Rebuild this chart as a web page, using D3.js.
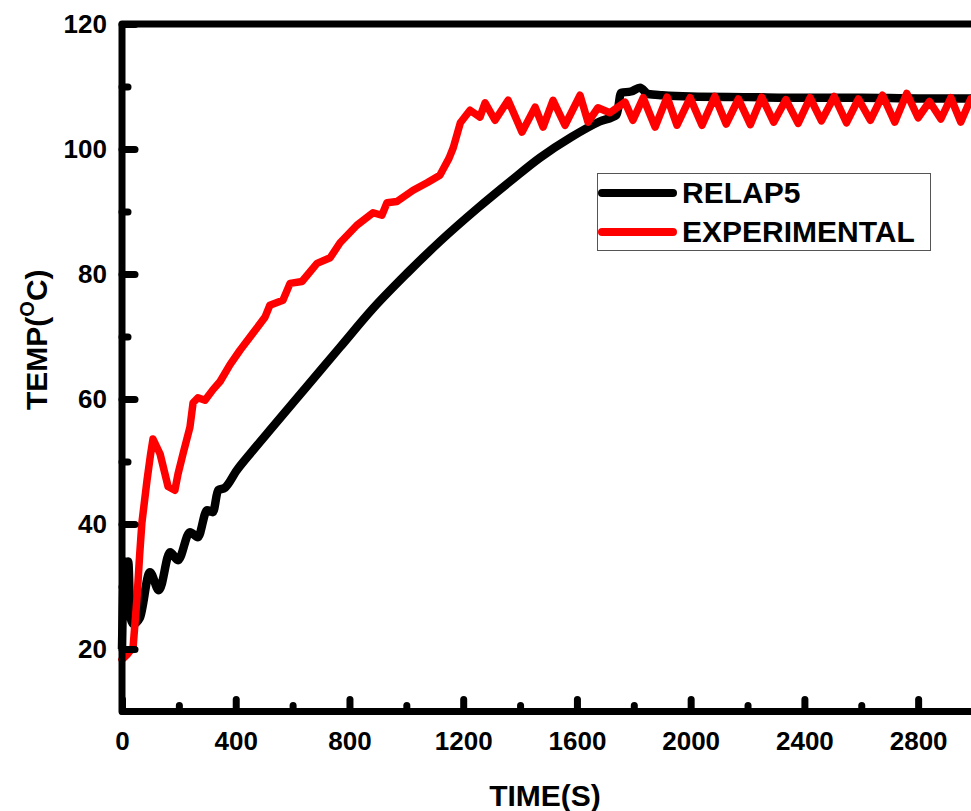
<!DOCTYPE html>
<html>
<head>
<meta charset="utf-8">
<script src="https://cdn.jsdelivr.net/npm/d3@7"></script>
<style>
	body { margin: 0; background: #fff; }
	svg { display: block; font-family: "Liberation Sans", Arial, sans-serif; font-weight: bold; }
</style>
</head>
<body>
<div id="chart"></div>
<script>
// RELAP5 simulation
var relapTime = [0, 8, 15, 22, 30, 40, 63, 98, 130, 169, 197, 239, 267, 299, 320, 338, 362, 404, 450, 531, 650, 767, 883, 1002, 1118, 1250, 1370, 1470, 1580, 1680, 1740, 1755, 1790, 1822, 1850, 1900, 2000, 2200, 2400, 2600, 2800, 3000];
var relapTemp = [20, 34, 27, 34, 25, 24, 25, 32.3, 29.4, 35.5, 34.2, 38.7, 37.9, 42.2, 41.9, 45.4, 45.8, 48.6, 51.2, 55.6, 62, 68.3, 74.5, 80.1, 85.2, 90.5, 95, 98.6, 101.9, 104.4, 105.5, 109, 109.2, 109.8, 108.8, 108.6, 108.4, 108.3, 108.2, 108.2, 108.1, 108.1];

// experimental measurements
var expTime = [0, 20, 39, 53, 62, 70, 88, 100, 109, 134, 162, 186, 197, 215, 239, 250, 267, 292, 320, 345, 380, 415, 460, 503, 520, 566, 591, 633, 686, 732, 767, 826, 883, 914, 932, 967, 1024, 1073, 1118, 1150, 1165, 1190, 1224, 1259, 1277, 1312, 1358, 1407, 1453, 1481, 1516, 1558, 1611, 1639, 1674, 1716, 1769, 1797, 1833, 1875, 1917, 1952, 1998, 2040, 2085, 2125, 2168, 2210, 2250, 2292, 2335, 2378, 2420, 2460, 2505, 2548, 2590, 2632, 2675, 2718, 2760, 2800, 2840, 2880, 2915, 2950, 2985];
var expTemp = [18.3, 19.2, 20.3, 28.3, 35, 40.2, 47, 51, 53.6, 51.2, 46, 45.4, 48, 51.3, 55.5, 59.4, 60.2, 59.8, 61.5, 62.8, 65.5, 67.8, 70.5, 73.1, 75, 75.8, 78.5, 78.8, 81.7, 82.6, 85, 87.8, 89.8, 89.4, 91.4, 91.6, 93.4, 94.6, 95.8, 98.5, 100.2, 104.2, 106.2, 105.1, 107.4, 104.6, 107.8, 102.7, 106.7, 103.5, 107.8, 103.8, 108.6, 104.3, 106.6, 105.8, 107.5, 104.6, 108.2, 103.5, 108.3, 103.8, 108.2, 103.8, 108.4, 104.0, 108.0, 103.9, 108.3, 104.3, 107.9, 104.1, 108.2, 104.5, 108.4, 104.2, 108.0, 104.6, 108.6, 104.3, 108.9, 105.0, 107.6, 104.8, 108.2, 104.3, 108.0];

var xMajor = [0, 400, 800, 1200, 1600, 2000, 2400, 2800];
var xMinor = [200, 600, 1000, 1400, 1800, 2200, 2600, 3000];
var yMajor = [20, 40, 60, 80, 100, 120];
var yMinor = [30, 50, 70, 90, 110];

var seriesNames = ["RELAP5", "EXPERIMENTAL"];
var seriesColors = ["#000000", "#ff0000"];

var width = 971, height = 811;
var svg = d3.select("#chart")
	.append("svg")
	.attr("width", width)
	.attr("height", height);

var x = d3.scaleLinear().domain([0, 3000]).range([122, 975]);
var y = d3.scaleLinear().domain([10, 120]).range([711.5, 24]);

var smooth = d3.line()
	.curve(d3.curveMonotoneX)
	.x(function(d) { return x(d[0]); })
	.y(function(d) { return y(d[1]); });

var line = d3.line()
	.x(function(d) { return x(d[0]); })
	.y(function(d) { return y(d[1]); });

var relap = relapTime.map(function(t, i) { return [t, relapTemp[i]]; });
var expt = expTime.map(function(t, i) { return [t, expTemp[i]]; });

// curves
svg.append("path")
	.datum(relap)
	.attr("d", smooth)
	.attr("fill", "none")
	.attr("stroke", seriesColors[0])
	.attr("stroke-width", 8.5)
	.attr("stroke-linejoin", "round");

svg.append("path")
	.datum(expt)
	.attr("d", line)
	.attr("fill", "none")
	.attr("stroke", seriesColors[1])
	.attr("stroke-width", 7.5)
	.attr("stroke-linejoin", "round")
	.attr("stroke-linecap", "round");

// frame
svg.append("path")
	.attr("d", "M" + x(3000) + "," + y(120) + "H" + x(0) + "V" + y(10) + "H" + x(3000))
	.attr("fill", "none")
	.attr("stroke", "#000")
	.attr("stroke-width", 7)
	.attr("stroke-linejoin", "round");

function styleAxis(g)
{
	g.select(".domain").remove();
	g.selectAll(".tick line")
	.attr("stroke", "#000")
	.attr("stroke-width", 7)
	.attr("stroke-linecap", "round");
	g.selectAll(".tick text")
	.attr("fill", "#000")
	.attr("font-size", "26px")
	.attr("font-weight", "bold")
	.attr("font-family", "Liberation Sans, Arial, sans-serif");
}

svg.append("g")
	.attr("transform", "translate(0," + y(10) + ")")
	.call(d3.axisBottom(x).tickValues(xMajor).tickSize(-12).tickPadding(20).tickFormat(d3.format("d")))
	.call(styleAxis);

svg.append("g")
	.attr("transform", "translate(0," + y(10) + ")")
	.call(d3.axisBottom(x).tickValues(xMinor).tickSize(-6).tickFormat(""))
	.call(styleAxis);

svg.append("g")
	.attr("transform", "translate(" + x(0) + ",0)")
	.call(d3.axisLeft(y).tickValues(yMajor).tickSize(-13).tickPadding(15).tickFormat(d3.format("d")))
	.call(styleAxis);

svg.append("g")
	.attr("transform", "translate(" + x(0) + ",0)")
	.call(d3.axisLeft(y).tickValues(yMinor).tickSize(-6).tickFormat(""))
	.call(styleAxis);

// axis titles
svg.append("text")
	.attr("x", 545)
	.attr("y", 806)
	.attr("text-anchor", "middle")
	.attr("font-size", "30px")
	.text("TIME(S)");

var yt = svg.append("text")
	.attr("transform", "translate(47,410) rotate(-90)")
	.attr("font-size", "30px");
yt.append("tspan").text("TEMP(");
yt.append("tspan").attr("font-size", "20px").attr("dy", "-13").text("O");
yt.append("tspan").attr("dy", "13").text("C)");

// legend
var lg = svg.append("g");
lg.append("rect")
	.attr("x", 597.5)
	.attr("y", 173.5)
	.attr("width", 333)
	.attr("height", 77)
	.attr("fill", "#fff")
	.attr("stroke", "#555")
	.attr("stroke-width", 1);

seriesNames.forEach(function(name, i)
{
	var ly = 193 + i * 39;
	lg.append("line")
	.attr("x1", 602)
	.attr("x2", 673)
	.attr("y1", ly)
	.attr("y2", ly)
	.attr("stroke", seriesColors[i])
	.attr("stroke-width", 8)
	.attr("stroke-linecap", "round");
	lg.append("text")
	.attr("x", 682)
	.attr("y", ly + 10)
	.attr("font-size", "30px")
	.text(name);
});
</script>
</body>
</html>
